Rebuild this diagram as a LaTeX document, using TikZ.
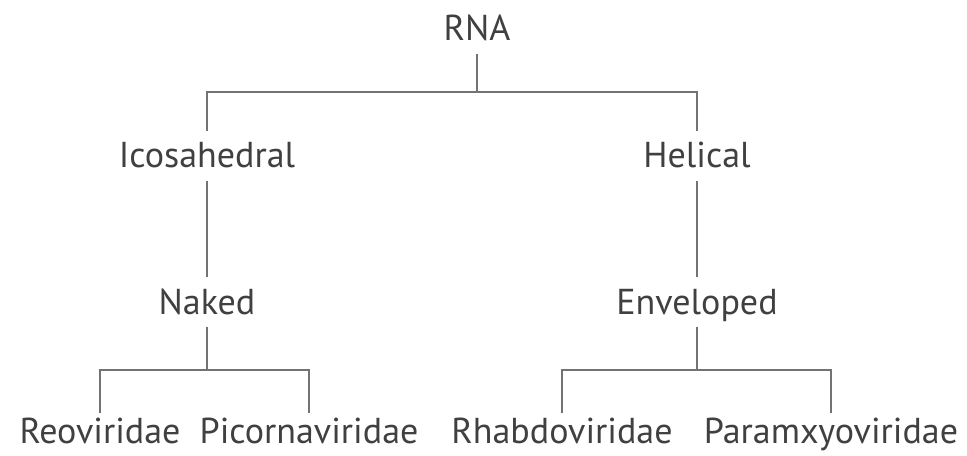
\documentclass[tikz,border=0pt]{standalone}
\usepackage{fontspec}
\setmainfont{PT Sans}
\usetikzlibrary{positioning}

\begin{document}
\begin{tikzpicture}[x = 0.02cm, y = -0.02cm]

  \tikzstyle{taxon}=[text=black!75, font=\fontsize{20.5}{22}\selectfont, inner xsep=0, inner ysep=7pt, text height=14pt, text depth=0pt, anchor=base]
  \tikzstyle{family}=[taxon, inner ysep=3pt]
  \tikzstyle{branch}=[draw=black!55, line width=1.1pt]

  \useasboundingbox (0, 0) rectangle (967, 456);

  \node [taxon] (RNA) at (477, 41) {RNA};

  \node [taxon] (icosahedral) at (207, 168) {Icosahedral};
  \node [taxon] (helical) at (697, 168) {Helical};
  \node [taxon] (naked) at (207, 314) {Naked};
  \node [taxon] (enveloped) at (697, 314) {Enveloped};

  \node [family] (reo) at (100, 443) {Reoviridae};
  \node [family] (picorna) at (309, 443) {Picornaviridae};
  \node [family] (rhabdo) at (562, 443) {Rhabdoviridae};
  \node [family] (paramyxo) at (831, 443) {Paramxyoviridae};

  \coordinate (RNA-fork) at (477, 92);
  \coordinate (naked-fork) at (207, 370);
  \coordinate (enveloped-fork) at (697, 370);

  \draw [branch] (RNA) -- (RNA-fork);
  \draw [branch] (icosahedral) |- (RNA-fork) -| (helical);

  \draw [branch] (icosahedral) -- (naked);
  \draw [branch] (helical) -- (enveloped);

  \draw [branch] (naked) -- (naked-fork);
  \draw [branch] (reo) |- (naked-fork) -| (picorna);
  \draw [branch] (enveloped) -- (enveloped-fork);
  \draw [branch] (rhabdo) |- (enveloped-fork) -| (paramyxo);
\end{tikzpicture}
\end{document}
